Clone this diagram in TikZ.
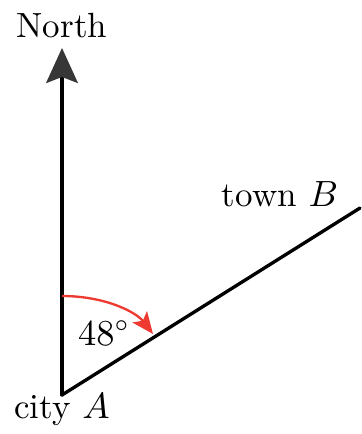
\documentclass[tikz,border=0pt]{standalone}
\usepackage{amsmath,amssymb}
\usepackage{xcolor}
\usepackage{tikz}
\usetikzlibrary{arrows.meta,positioning}

\definecolor{arcred}{RGB}{238,58,48}
\definecolor{tipgray}{RGB}{55,55,55}

\begin{document}
\begin{tikzpicture}[x=0.3pt, y=-0.3pt, auto]
  \useasboundingbox (0,0) rectangle (361,434);
  \tikzset{
    leg/.style={line width=1pt, line cap=round},
    lbl/.style={inner sep=0pt, anchor=base, font=\fontsize{10.5}{12}\selectfont}
  }
  \coordinate (cityA) at (62,395);
  \coordinate (northtip) at (62,48);
  \coordinate (townB) at (360,208);
  \coordinate (arcstart) at (62,296);
  \coordinate (arcend) at (153,334);

  \node[lbl] (north) at (62,38) {North};
  \node[lbl] (cityAlbl) at (62,418) {city $A$};
  \node[lbl] (townBlbl) at (280,207) {town $B$};
  \node[lbl] (angle) at (104,345) {$48^\circ$};

  \draw[leg, -{Stealth[length=10.5pt, width=9.5pt, inset=1.8pt, fill=tipgray, color=tipgray]}] (cityA) -- (northtip);
  \draw[leg] (cityA) -- (townB);
  \draw[arcred, line width=0.7pt, -{Stealth[length=6.5pt, width=5.5pt, inset=1.5pt]}]
    (arcstart) .. controls (105,296) and (136,312) .. (arcend);
\end{tikzpicture}
\end{document}
